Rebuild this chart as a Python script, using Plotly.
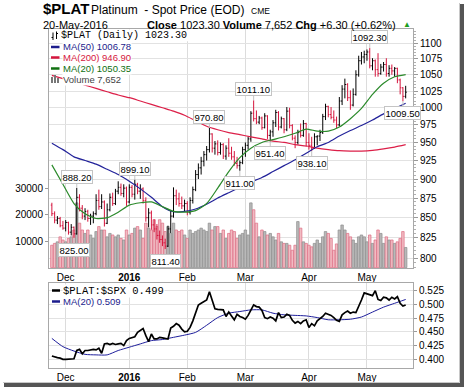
import math
import pandas as pd
import plotly.graph_objects as go

# ---------------- data ----------------
dates = pd.bdate_range("2015-11-24", "2016-05-20")  # 129 sessions

opens = [866, 855, 847, 849, 840, 837, 844, 832, 838, 830,
         876, 862, 852, 858, 849, 852, 855, 872, 864, 870,
         843, 860, 876, 868, 884, 889, 881, 888, 870, 889,
         880, 893, 884, 887, 872, 850, 856, 841, 836, 828,
         823, 819, 815, 836, 852, 878, 874, 868, 865, 868,
         857, 872, 886, 906, 915, 924, 933, 940, 962, 942,
         948, 936, 947, 931, 942, 935, 930, 921, 918, 922,
         940, 946, 955, 992, 984, 979, 985, 971, 988, 960,
         965, 978, 993, 972, 984, 968, 995, 974, 956, 950,
         964, 960, 977, 950, 946, 942, 958, 959, 964, 987,
         1002, 990, 986, 982, 975, 1010, 1028, 1035, 1015, 1004,
         1020, 1050, 1072, 1078, 1082, 1086, 1064, 1072, 1058, 1052,
         1062, 1066, 1052, 1060, 1056, 1060, 1042, 1030, 1017]
highs = [869, 858, 852, 851, 846, 847, 845, 842, 839, 888.2,
         880, 866, 862, 860, 855, 858, 880, 886, 880, 872,
         868, 881, 882, 887, 897, 894, 893, 890, 893, 892,
         899.1, 895, 893, 889, 876, 862, 859, 848, 842, 834,
         828, 824, 840, 860, 889, 886, 882, 877, 873, 871,
         876, 890, 912, 921, 930, 938, 945, 970.8, 963, 952,
         953, 950, 949, 946, 956, 944, 938, 930, 925, 944,
         950, 958, 995, 1011.1, 996, 988, 987, 992, 989, 968,
         982, 997, 995, 987, 985, 1001, 1000, 976, 960, 968,
         977, 982, 978, 963, 958, 963, 960, 968, 991, 1006,
         1003, 1001, 996, 987, 1016, 1034, 1044, 1037, 1026, 1029,
         1057, 1080, 1086, 1088, 1090, 1092.3, 1076, 1074, 1084, 1067,
         1070, 1076, 1065, 1066, 1062, 1061, 1044, 1031, 1033]
lows = [852, 843, 842, 838, 835, 833, 829, 828, 825, 829,
        858, 848, 847, 845, 841, 843, 853, 860, 861, 839,
        842, 858, 865, 866, 880, 878, 876, 865, 868, 876,
        873, 880, 874, 868, 845, 838, 835, 832, 823, 819,
        815, 811.4, 814, 831, 850, 866, 864, 861, 858, 853,
        854, 868, 884, 900, 906, 917, 925, 936, 936, 933,
        932, 933, 927, 926, 930, 926, 918, 914, 911, 920,
        930, 940, 951, 980, 976, 976, 968, 970, 955, 951.4,
        958, 972, 967, 970, 963, 966, 970, 953, 942, 947,
        957, 958, 944, 940, 938.1, 941, 946, 952, 962, 982,
        986, 983, 978, 970, 973, 1004, 1014, 1010, 997, 1002,
        1018, 1047, 1066, 1068, 1072, 1060, 1057, 1047, 1047, 1050,
        1055, 1047, 1047, 1050, 1047, 1037, 1020, 1009.5, 1014]
closes = [855, 847, 849, 840, 837, 844, 832, 838, 830, 876,
          862, 852, 858, 849, 852, 855, 872, 864, 870, 843,
          860, 876, 868, 884, 889, 881, 888, 870, 889, 880,
          893, 884, 887, 872, 850, 856, 841, 836, 828, 823,
          819, 815, 836, 852, 878, 874, 868, 865, 868, 857,
          872, 886, 906, 915, 924, 933, 940, 962, 942, 948,
          936, 947, 931, 942, 935, 930, 921, 918, 922, 940,
          946, 955, 992, 984, 979, 985, 971, 988, 960, 965,
          978, 993, 972, 984, 968, 995, 974, 956, 950, 964,
          960, 977, 950, 946, 942, 958, 959, 964, 987, 1002,
          990, 986, 982, 975, 1010, 1028, 1035, 1015, 1004, 1020,
          1050, 1072, 1078, 1082, 1086, 1064, 1072, 1058, 1052, 1062,
          1066, 1052, 1060, 1056, 1060, 1042, 1030, 1017, 1023.3]
volumes = [8500, 9200, 9800, 11700, 10500, 9800, 11100, 11700, 14300, 24600,
           16900, 14300, 13000, 14300, 12400, 11100, 13700, 15600, 14300, 14300,
           11700, 13000, 12400, 11700, 12400, 11100, 10500, 14300, 12400, 13000,
           15000, 15600, 14300, 11100, 16900, 15000, 14300, 18200, 15600, 18200,
           16900, 13700, 15600, 13000, 16900, 14300, 13700, 14300, 12400, 11100,
           14300, 13000, 13700, 14300, 15000, 14300, 13700, 16900, 14300, 15600,
           15600, 13000, 14300, 11100, 13000, 14300, 13700, 11100, 12400, 13000,
           14300, 12400, 24600, 22000, 16900, 11700, 14300, 13700, 12400, 13000,
           11700, 10500, 13000, 9800, 9200, 9200, 8500, 6600, 8500, 17500,
           15000, 9800, 9200, 8500, 7900, 9200, 10500, 9200, 11700, 13700,
           13000, 11100, 6600, 9000, 14300, 16200, 14300, 13000, 11700, 10500,
           9200, 11700, 12400, 11700, 9800, 12400, 9200, 10500, 14300, 13000,
           9200, 11700, 10500, 10500, 9200, 9800, 11100, 13700, 7652]

# moving averages every 4th session
ma_sample_idx = list(range(0, 129, 4))
ma50 = [949, 940, 930, 925, 920, 913, 906, 897, 887, 876, 864, 857.5, 858, 861, 867, 875, 882,
        889, 896, 902, 910, 918, 926, 935, 944, 950, 959, 967, 974, 982, 991, 999, 1006.78]
ma200 = [1049, 1044, 1039, 1034, 1029, 1024, 1019, 1015, 1010, 1005, 1000, 995, 989, 981, 973,
         968, 964, 961, 958, 955, 952, 950, 947, 945, 942, 940, 938.5, 938, 938, 939, 941,
         943.5, 946.90]
ma20 = [919, 893, 868, 855, 849, 850, 857, 866, 869, 870, 864, 858, 857, 859, 868, 888, 910,
        929, 942, 950, 954, 958, 963, 969, 966, 966, 972, 984, 999, 1020, 1037, 1047, 1050.35]

ratio = [0.406, 0.404, 0.403, 0.402, 0.400, 0.400, 0.400, 0.400, 0.401, 0.416,
         0.418, 0.410, 0.416, 0.416, 0.417, 0.418, 0.417, 0.420, 0.411, 0.428,
         0.429, 0.427, 0.429, 0.427, 0.428, 0.429, 0.425, 0.434, 0.438, 0.440,
         0.441, 0.449, 0.452, 0.456, 0.443, 0.432, 0.446, 0.437, 0.437, 0.440,
         0.439, 0.438, 0.437, 0.457, 0.460, 0.465, 0.462, 0.455, 0.450, 0.451,
         0.458, 0.470, 0.484, 0.499, 0.502, 0.505, 0.508, 0.523, 0.509, 0.492,
         0.491, 0.491, 0.490, 0.478, 0.486, 0.479, 0.472, 0.482, 0.478, 0.476,
         0.473, 0.480, 0.489, 0.499, 0.496, 0.495, 0.489, 0.476, 0.474, 0.477,
         0.475, 0.470, 0.485, 0.476, 0.477, 0.482, 0.480, 0.471, 0.466, 0.469,
         0.465, 0.470, 0.472, 0.458, 0.465, 0.461, 0.470, 0.474, 0.478, 0.484,
         0.482, 0.480, 0.476, 0.471, 0.469, 0.481, 0.485, 0.488, 0.484, 0.486,
         0.485, 0.495, 0.508, 0.521, 0.519, 0.518, 0.516, 0.525, 0.509, 0.507,
         0.513, 0.512, 0.508, 0.513, 0.510, 0.514, 0.502, 0.497, 0.499]
ratio_ma20 = [0.438, 0.423, 0.415, 0.409, 0.408, 0.408, 0.416, 0.422, 0.428, 0.434, 0.436,
              0.440, 0.444, 0.449, 0.462, 0.476, 0.484, 0.487, 0.490, 0.490, 0.484, 0.481,
              0.480, 0.479, 0.476, 0.472, 0.472, 0.473, 0.477, 0.486, 0.495, 0.502, 0.509]

month_labels = ["Dec", "<b>2016</b>", "Feb", "Mar", "Apr", "May"]
price_ticks = list(range(800, 1101, 25))
price_minor_ticks = list(range(790, 1125, 5))
vol_ticks = [10000, 20000, 30000]
ratio_ticks = [0.400, 0.425, 0.450, 0.475, 0.500, 0.525]
# (session index, 'H' = label the high / 'L' = label the low)
extreme_labels = [(9, "H"), (8, "L"), (30, "H"), (41, "L"), (57, "H"), (68, "L"),
                  (73, "H"), (79, "L"), (94, "L"), (115, "H"), (127, "L")]
chg = 6.30
chg_pct = 0.62

# ---------------- figure ----------------
W, H = 464, 387
ML, MR, MT, MB = 49, 51, 29, 19
PW, PH = W - ML - MR, H - MT - MB


def px(X):
    return (X - ML) / PW


def py(Y):
    return (H - MB - Y) / PH


n = len(closes)
xs = list(range(n))
prev = [opens[0]] + closes[:-1]
up = [closes[i] >= prev[i] for i in range(n)]

# month start positions
month_idx = []
seen = set()
for i, d in enumerate(dates):
    key = (d.year, d.month)
    if key not in seen:
        seen.add(key)
        if i > 0:
            month_idx.append(i)

RED = "#d5153d"
fig = go.Figure()

# volume bars (base axis)
fig.add_trace(go.Bar(
    x=xs, y=volumes, xaxis="x", yaxis="y",
    marker=dict(color=["#b9b9b9" if u else "#f1bcc3" for u in up],
                line=dict(color=["#8c8c8c" if u else "#dc6c82" for u in up], width=0.7)),
    width=0.9, hoverinfo="skip"))

# price bars
for flag, col in ((True, "#000000"), (False, RED)):
    idx = [i for i in xs if up[i] == flag]
    fig.add_trace(go.Ohlc(
        x=idx, open=[opens[i] for i in idx], high=[highs[i] for i in idx],
        low=[lows[i] for i in idx], close=[closes[i] for i in idx],
        xaxis="x", yaxis="y2", tickwidth=0.4,
        increasing=dict(line=dict(color=col, width=1)),
        decreasing=dict(line=dict(color=col, width=1)),
        hoverinfo="skip"))

for vals, col in ((ma200, "#dc1f48"), (ma50, "#23239a"), (ma20, "#2b8a2b")):
    fig.add_trace(go.Scatter(x=ma_sample_idx, y=vals, xaxis="x", yaxis="y2", mode="lines",
                             line=dict(color=col, width=1.2, shape="spline", smoothing=0.6),
                             hoverinfo="skip"))

# ratio panel
fig.add_trace(go.Scatter(x=ma_sample_idx, y=ratio_ma20, xaxis="x2", yaxis="y3", mode="lines",
                         line=dict(color="#1e1e9c", width=1, shape="spline", smoothing=0.6),
                         hoverinfo="skip"))
fig.add_trace(go.Scatter(x=xs, y=ratio, xaxis="x2", yaxis="y3", mode="lines",
                         line=dict(color="#000000", width=1.7), hoverinfo="skip"))

xr = [-1.04, 130.65]
grid = "#dcdcdc"
axline = "#a8a8a8"
tickfont = dict(family="Liberation Sans, Arial", size=10, color="#000")

common_x = dict(range=xr, tickmode="array", tickvals=month_idx, ticktext=month_labels,
                showgrid=True, gridcolor=grid, gridwidth=1, zeroline=False,
                showline=True, linecolor=axline, mirror=True, ticks="",
                tickfont=tickfont, fixedrange=True, automargin=False,
                rangeslider=dict(visible=False))

fig.update_layout(
    template="none",
    width=W, height=H, margin=dict(l=ML, r=MR, t=MT, b=MB, pad=0, autoexpand=False),
    paper_bgcolor="white", plot_bgcolor="white", showlegend=False,
    bargap=0,
    xaxis=dict(domain=[0, 1], anchor="y", **common_x),
    yaxis=dict(domain=[py(268), 1], anchor="x", side="left", range=[-150, 90700],
               tickmode="array", tickvals=vol_ticks, ticktext=[str(v) for v in vol_ticks],
               showgrid=False, zeroline=False, automargin=False,
               showline=True, linecolor=axline, mirror=True, ticks="outside", ticklen=3,
               tickcolor="#999", tickfont=tickfont),
    yaxis2=dict(overlaying="y", anchor="x", side="right", type="log",
                range=[2.89712, 3.05057], tickmode="array", tickvals=price_ticks,
                ticktext=[str(t) for t in price_ticks], automargin=False,
                showgrid=True, gridcolor="#e2e2e2", zeroline=False, ticks="outside",
                ticklen=4, tickcolor="#999", tickfont=tickfont, showline=False,
                minor=dict(tickmode="array", tickvals=price_minor_ticks, ticks="outside",
                           ticklen=2, tickcolor="#b0b0b0", showgrid=False)),
    xaxis2=dict(domain=[0, 1], anchor="y3", **common_x),
    yaxis3=dict(domain=[0, py(283)], anchor="x2", side="right", range=[0.3841, 0.5390],
                tickmode="array", tickvals=ratio_ticks, automargin=False,
                ticktext=[f"{t:.3f}" for t in ratio_ticks], showgrid=True, gridcolor="#e2e2e2",
                zeroline=False, showline=True, linecolor=axline, mirror=True, ticks="outside",
                ticklen=3, tickcolor="#999", tickfont=tickfont),
)

ann = []
# high / low call-outs
for i, kind in extreme_labels:
    v = highs[i] if kind == "H" else lows[i]
    ann.append(dict(x=i, y=math.log10(v), xref="x", yref="y2", text=f"{v:.2f}",
                    showarrow=True, arrowhead=0, arrowwidth=1, arrowcolor="#c4c4c4",
                    ax=0, ay=-11 if kind == "H" else 12, bgcolor="white",
                    bordercolor="#c4c4c4", borderwidth=1, borderpad=0.5,
                    font=dict(family="Liberation Sans, Arial", size=9.5, color="#000")))


def text(X, Y, s, size, color="#000", fam="Liberation Sans, Arial", bg=None, ya="middle"):
    d = dict(x=px(X), y=py(Y), xref="paper", yref="paper", xanchor="left",
             yanchor=ya, showarrow=False, text=s, borderpad=0,
             font=dict(family=fam, size=size, color=color))
    if bg:
        d.update(bgcolor=bg)
    ann.append(d)


# header (row 1 sits above y=17.8, row 2 below it)
text(42, 17.8, "<b>$PLAT</b>", 15, ya="bottom")
text(90, 17.8, "Platinum&nbsp;&nbsp;- Spot Price (EOD)", 12, ya="bottom")
text(250, 17.3, "CME", 8.5, ya="bottom")
text(42, 17.8, dates[-1].strftime("%d-%b-%Y"), 11, ya="top")
text(146, 17.8, f"<b>Close</b> {closes[-1]:.2f} <b>Volume</b> {volumes[-1]:,} "
                f"<b>Chg</b> +{chg:.2f} (+{chg_pct:.2f}%)", 11, ya="top")
text(402, 18.5, "▲", 8, color="#1e9e1e", ya="top")

# main-panel legend
MONO = "Liberation Mono, monospace"
SANS = "Liberation Sans, Arial"
text(60, 36, f"$PLAT (Daily) {closes[-1]:.2f}", 10, "#000", MONO, "white")
text(62, 47, f"MA(50) {ma50[-1]:.2f}", 9.5, "#1c1c8c", SANS, "white")
text(62, 57.5, f"MA(200) {ma200[-1]:.2f}", 9.5, "#d5153d", SANS, "white")
text(62, 68.5, f"MA(20) {ma20[-1]:.2f}", 9.5, "#117011", SANS, "white")
text(62, 79, f"Volume {volumes[-1]:,}", 9.5, "#444", SANS, "white")

# ratio legend
text(62, 290.5, f"$PLAT:$SPX {ratio[-1]:.3f}", 10.5, "#000", MONO, "white")
text(62, 301.5, f"MA(20) {ratio_ma20[-1]:.3f}", 9.5, "#1c1c8c", SANS, "white")

shapes = []


def seg(x0, y0, x1, y1, col, w):
    shapes.append(dict(type="line", xref="paper", yref="paper", x0=px(x0), y0=py(y0),
                       x1=px(x1), y1=py(y1), line=dict(color=col, width=w)))


def box(x0, y0, x1, y1, col, lcol=None):
    shapes.append(dict(type="rect", xref="paper", yref="paper", x0=px(x0), y0=py(y0),
                       x1=px(x1), y1=py(y1), fillcolor=col,
                       line=dict(color=lcol or col, width=0.5 if lcol else 0)))


# legend icons
box(50.5, 30.5, 189, 41, "white")
seg(53, 32.5, 53, 40, "#000", 1)
seg(51.5, 37.5, 53, 37.5, "#000", 1)
seg(56.5, 31.5, 56.5, 39, "#000", 1)
seg(56.5, 33.5, 58, 33.5, "#000", 1)
seg(51, 47, 59.5, 47, "#1c1c8c", 2.5)
seg(51, 57.5, 59.5, 57.5, "#d5153d", 2.5)
seg(51, 68.5, 59.5, 68.5, "#117011", 2.5)
box(51, 77, 53, 83, "#777")
box(54, 75, 56, 83, "#777")
box(57, 78, 59, 83, "#777")
seg(52, 290.5, 60, 290.5, "#000", 2.5)
seg(52, 301.5, 60, 301.5, "#1c1c8c", 2.5)

# frame shadow
seg(459.5, 3, 459.5, 382.5, "#c8c8c8", 1)
seg(3, 382.5, 459.5, 382.5, "#c8c8c8", 1)
box(460, 4, 464, 387, "#555")
box(4, 383, 464, 387, "#555")

fig.update_layout(annotations=ann, shapes=shapes)
fig.write_html("out.html", config={"displayModeBar": False, "staticPlot": True},
               post_script="document.body.style.margin='0px';"
                           "document.body.style.overflow='hidden';")
